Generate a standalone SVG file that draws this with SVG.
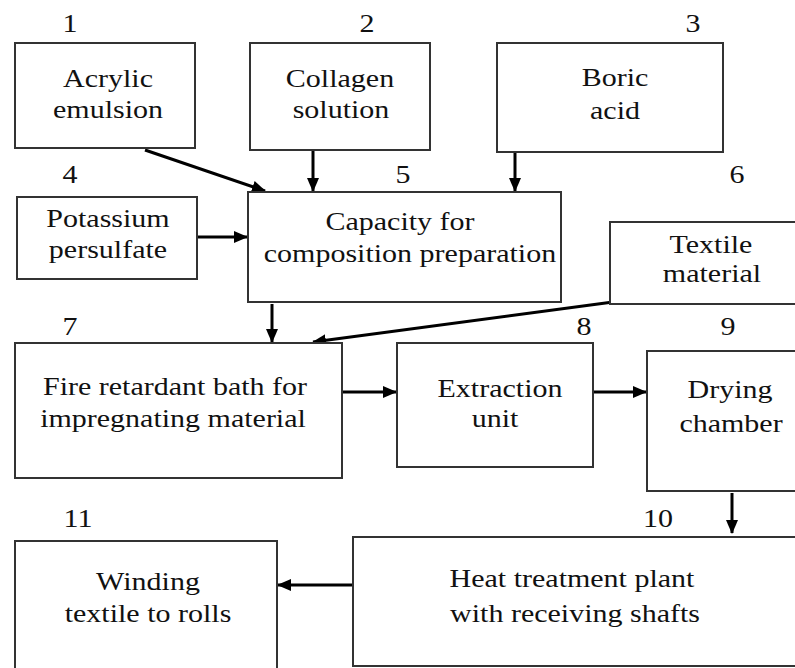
<svg xmlns="http://www.w3.org/2000/svg" width="795" height="668" viewBox="0 0 795 668">
<style>
.box{fill:#fff;stroke:#333;stroke-width:2}
.t{font-family:'Liberation Serif','Times New Roman',serif;font-size:25px;fill:#111;text-anchor:middle}
.c{stroke:#000;stroke-width:3;fill:none;marker-end:url(#ah)}
</style>
<defs>
<marker id="ah" markerUnits="userSpaceOnUse" markerWidth="14" markerHeight="12" refX="13" refY="6" orient="auto">
<path d="M0,0 L14,6 L0,12 Z" fill="#000"/>
</marker>
</defs>
<rect width="795" height="668" fill="#fff"/>
<g id="connectors">
<line class="c" x1="145" y1="150" x2="265" y2="191"/>
<line class="c" x1="313" y1="150" x2="313" y2="191"/>
<line class="c" x1="515" y1="152" x2="515" y2="191"/>
<line class="c" x1="197" y1="237" x2="247" y2="237"/>
<line class="c" x1="272" y1="304" x2="272" y2="342"/>
<line class="c" x1="613" y1="302" x2="313" y2="342"/>
<line class="c" x1="342" y1="392" x2="396" y2="392"/>
<line class="c" x1="593" y1="392" x2="646" y2="392"/>
<line class="c" x1="732" y1="493" x2="732" y2="533"/>
<line class="c" x1="352" y1="585" x2="278" y2="585"/>
</g>
<g id="n1"><rect class="box" x="15" y="43" width="180" height="105"/>
<text class="t" transform="translate(70,32) scale(1.2,1)">1</text>
<text class="t" transform="translate(108,87) scale(1.2,1)">Acrylic</text>
<text class="t" transform="translate(108,118) scale(1.2,1)">emulsion</text></g>
<g id="n2"><rect class="box" x="250" y="43" width="180" height="107"/>
<text class="t" transform="translate(367,32) scale(1.2,1)">2</text>
<text class="t" transform="translate(340,87) scale(1.2,1)">Collagen</text>
<text class="t" transform="translate(341,118) scale(1.2,1)">solution</text></g>
<g id="n3"><rect class="box" x="497" y="43" width="226" height="109"/>
<text class="t" transform="translate(693,32) scale(1.2,1)">3</text>
<text class="t" transform="translate(615,86) scale(1.2,1)">Boric</text>
<text class="t" transform="translate(615,119) scale(1.2,1)">acid</text></g>
<g id="n4"><rect class="box" x="17" y="197" width="180" height="82"/>
<text class="t" transform="translate(70,183) scale(1.2,1)">4</text>
<text class="t" transform="translate(108,227) scale(1.2,1)">Potassium</text>
<text class="t" transform="translate(108,258) scale(1.2,1)">persulfate</text></g>
<g id="n5"><rect class="box" x="248" y="192" width="313" height="110"/>
<text class="t" transform="translate(403,183) scale(1.2,1)">5</text>
<text class="t" transform="translate(400,230) scale(1.2,1)">Capacity for</text>
<text class="t" transform="translate(410,262) scale(1.2,1)">composition preparation</text></g>
<g id="n6"><rect class="box" x="610" y="222" width="200" height="82"/>
<text class="t" transform="translate(737,183) scale(1.2,1)">6</text>
<text class="t" transform="translate(711,253) scale(1.2,1)">Textile</text>
<text class="t" transform="translate(712,282) scale(1.2,1)">material</text></g>
<g id="n7"><rect class="box" x="15" y="343" width="327" height="135"/>
<text class="t" transform="translate(70,335) scale(1.2,1)">7</text>
<text class="t" transform="translate(175,395) scale(1.2,1)">Fire retardant bath for</text>
<text class="t" transform="translate(173,427) scale(1.2,1)">impregnating material</text></g>
<g id="n8"><rect class="box" x="397" y="343" width="196" height="124"/>
<text class="t" transform="translate(584,335) scale(1.2,1)">8</text>
<text class="t" transform="translate(500,397) scale(1.2,1)">Extraction</text>
<text class="t" transform="translate(495,427) scale(1.2,1)">unit</text></g>
<g id="n9"><rect class="box" x="647" y="351" width="160" height="140"/>
<text class="t" transform="translate(728,335) scale(1.2,1)">9</text>
<text class="t" transform="translate(730,398) scale(1.2,1)">Drying</text>
<text class="t" transform="translate(731,432) scale(1.2,1)">chamber</text></g>
<g id="n10"><rect class="box" x="353" y="537" width="460" height="129"/>
<text class="t" transform="translate(658,527) scale(1.2,1)">10</text>
<text class="t" transform="translate(572,587) scale(1.2,1)">Heat treatment plant</text>
<text class="t" transform="translate(575,622) scale(1.2,1)">with receiving shafts</text></g>
<g id="n11"><rect class="box" x="15" y="541" width="262" height="140"/>
<text class="t" transform="translate(78,527) scale(1.2,1)">11</text>
<text class="t" transform="translate(148,590) scale(1.2,1)">Winding</text>
<text class="t" transform="translate(148,622) scale(1.2,1)">textile to rolls</text></g>
</svg>
